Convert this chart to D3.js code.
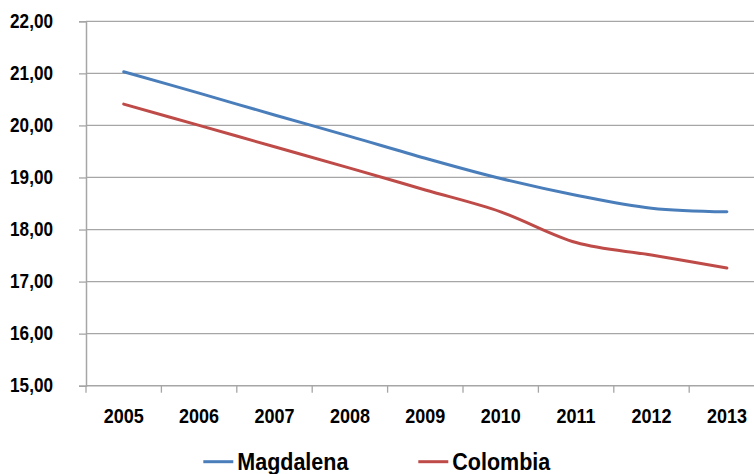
<!DOCTYPE html>
<html><head><meta charset="utf-8">
<script src="https://cdn.jsdelivr.net/npm/d3@7"></script>
<style>body{margin:0;background:#fff;}svg{display:block;}text{font-family:"Liberation Sans",Arial,sans-serif;font-weight:bold;fill:#000;}</style>
</head><body>
<svg id="c" width="754" height="474"></svg>
<script>
const years = ["2005","2006","2007","2008","2009","2010","2011","2012","2013"];
const magdalena = [21.03,20.62,20.20,19.79,19.37,18.98,18.66,18.41,18.34];
const colombia = [20.41,20.00,19.59,19.18,18.76,18.34,17.75,17.51,17.26];
const yTicks = [15,16,17,18,19,20,21,22];
const seriesNames = ["Magdalena","Colombia"];
const colors = ["#4A7EBB","#BE4B48"];

(function(){
const svg = d3.select("#c");
const left = 86, topY = 21.3, bottom = 385.7, bandW = 75.4;
const x = d3.scaleBand().domain(years).range([left, left + bandW*years.length]);
const y = d3.scaleLinear().domain([15,22]).range([bottom, topY]);
const fmt = v => d3.format(".2f")(v).replace(".", ",");

// gridlines
svg.append("g").selectAll("line").data(yTicks.filter(t=>t>15)).join("line")
  .attr("x1", left).attr("x2", 754).attr("y1", d=>y(d)).attr("y2", d=>y(d))
  .attr("stroke", "#a6a6a6").attr("stroke-width", 1.3);

// y axis
const ya = svg.append("g").attr("transform", `translate(${left},0)`)
  .call(d3.axisLeft(y).tickValues(yTicks).tickFormat(fmt).tickSize(7).tickPadding(26));
ya.select(".domain").attr("stroke", "#a6a6a6").attr("stroke-width", 1.5);
ya.selectAll(".tick line").attr("stroke", "#a6a6a6").attr("stroke-width", 1.3);
ya.selectAll("text")
  .style("font-size", "19.5px").style("font-family", "'Liberation Sans',Arial,sans-serif").style("font-weight", "bold").attr("fill", "#000")
  .attr("x", 0).attr("transform", `translate(-33,0) scale(0.88,1)`);

// x axis
const xa = svg.append("g").attr("transform", `translate(0,${bottom})`)
  .call(d3.axisBottom(x).tickSize(0).tickPadding(23));
xa.select(".domain").remove();
xa.selectAll("text")
  .style("font-size", "20px").style("font-family", "'Liberation Sans',Arial,sans-serif").style("font-weight", "bold").attr("fill", "#000")
  .attr("transform", `scale(0.9,1)`);
svg.append("line").attr("x1", left).attr("x2", 754).attr("y1", bottom).attr("y2", bottom)
  .attr("stroke", "#a6a6a6").attr("stroke-width", 1.5);
svg.append("g").selectAll("line").data(years.concat(["end"])).join("line")
  .attr("x1", (d,i)=> left + i*x.step()).attr("x2", (d,i)=> left + i*x.step())
  .attr("y1", bottom).attr("y2", bottom+7)
  .attr("stroke", "#a6a6a6").attr("stroke-width", 1.3);

// lines
const line = d3.line().x((d,i)=>x(years[i]) + x.bandwidth()/2).y(d=>y(d)).curve(d3.curveCatmullRom.alpha(0));
[magdalena, colombia].forEach((s, i) => {
  svg.append("path").datum(s).attr("d", line).attr("fill", "none")
    .attr("stroke", colors[i]).attr("stroke-width", 3).attr("stroke-linecap", "round");
});

// legend
const legX = [203.3, 418.3];
seriesNames.forEach((n, i) => {
  const g = svg.append("g");
  g.append("line").attr("x1", legX[i]).attr("x2", legX[i]+30).attr("y1", 461.7).attr("y2", 461.7)
    .attr("stroke", colors[i]).attr("stroke-width", 3);
  g.append("text").attr("transform", `translate(${legX[i]+34},470) scale(0.915,1)`).text(n)
    .style("font-size", "23.5px");
});
})();
</script>
</body></html>
